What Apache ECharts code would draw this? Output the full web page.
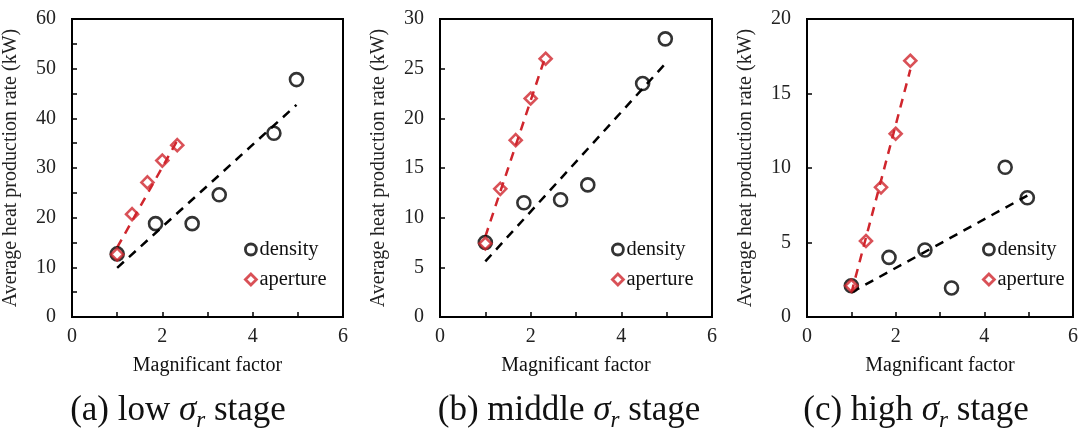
<!DOCTYPE html>
<html>
<head>
<meta charset="utf-8">
<script src="https://cdn.jsdelivr.net/npm/echarts@6/dist/echarts.min.js"></script>
<style>html,body{margin:0;padding:0;background:#fff}#c{width:1081px;height:432px}</style>
</head>
<body>
<div id="c"></div>
<script>
// ---- data ----
const densityX = [1, 1.85, 2.66, 3.26, 4.47, 4.97];
const apertureX = [1, 1.33, 1.67, 2, 2.33];
const densityA = [12.7, 18.8, 18.8, 24.6, 37.0, 47.8];
const apertureA = [12.6, 20.7, 27.1, 31.5, 34.6];
const densityB = [7.5, 11.5, 11.8, 13.3, 23.5, 28.0];
const apertureB = [7.4, 12.9, 17.8, 22.0, 26.0];
const densityC = [2.1, 4.0, 4.5, 1.95, 10.05, 8.0];
const apertureC = [2.1, 5.1, 8.7, 12.3, 17.2];
// trend line endpoints [x, y]
const trendDensityA = [[1, 9.9], [4.97, 42.7]];
const trendApertureA = [[1, 14.0], [2.33, 35.5]];
const trendDensityB = [[1, 5.6], [4.97, 25.5]];
const trendApertureB = [[1, 8.1], [2.33, 26.3]];
const trendDensityC = [[1, 1.65], [4.97, 8.15]];
const trendApertureC = [[1, 1.6], [2.33, 16.6]];
const yMax = [60, 30, 20];
const yInterval = [10, 5, 5];
const xTickLabels = ['0', '2', '4', '6'];
const xName = 'Magnificant factor';
const yName = 'Average heat production rate (kW)';
const captions = [['(a) low ', ' stage'], ['(b) middle ', ' stage'], ['(c) high ', ' stage']];
const legendNames = ['density', 'aperture'];

// ---- layout ----
const FONT = '"Liberation Serif", "Times New Roman", serif';
const RED = '#d0262d';
const gridLeft = [71, 440, 807];
const gridW = [272, 272, 274];
const gridTop = 19, gridH = 298;
const legendLeft = [239, 606, 977];
const captionX = [173, 564, 911];

const pair = (xs, ys) => xs.map((x, i) => [x, ys[i]]);
const densities = [densityA, densityB, densityC];
const apertures = [apertureA, apertureB, apertureC];
const trendsD = [trendDensityA, trendDensityB, trendDensityC];
const trendsA = [trendApertureA, trendApertureB, trendApertureC];

const grids = [], xAxes = [], yAxes = [], series = [], legends = [], titles = [];
for (let i = 0; i < 3; i++) {
  grids.push({left: gridLeft[i], top: gridTop, width: gridW[i], height: gridH, show: true,
    borderColor: '#000', borderWidth: 2, backgroundColor: 'transparent', containLabel: false});
  xAxes.push({gridIndex: i, type: 'value', min: 0, max: 6, interval: 2,
    name: xName, nameLocation: 'middle', nameGap: 39,
    nameTextStyle: {fontFamily: FONT, fontSize: 20, color: '#111'},
    axisLine: {show: true, lineStyle: {color: '#000', width: 2}},
    axisTick: {show: true, inside: true, length: 5, lineStyle: {color: '#000', width: 1.5}},
    minorTick: {show: true, splitNumber: 2, length: 5, lineStyle: {color: '#000', width: 1.5}},
    splitLine: {show: false},
    axisLabel: {fontFamily: FONT, fontSize: 20, color: '#222', margin: 10,
      formatter: v => xTickLabels[Math.round(v / 2)] ?? String(v)}});
  yAxes.push({gridIndex: i, type: 'value', min: 0, max: yMax[i], interval: yInterval[i],
    name: yName, nameLocation: 'middle', nameGap: 51, nameRotate: 90,
    nameTextStyle: {fontFamily: FONT, fontSize: 20, color: '#222'},
    axisLine: {show: true, lineStyle: {color: '#000', width: 2}},
    axisTick: {show: true, inside: true, length: 5, lineStyle: {color: '#000', width: 1.5}},
    minorTick: {show: i === 0, splitNumber: 2, length: 5, lineStyle: {color: '#000', width: 1.5}},
    splitLine: {show: false},
    axisLabel: {fontFamily: FONT, fontSize: 20, color: '#222', margin: 16}});
  series.push({type: 'line', xAxisIndex: i, yAxisIndex: i, data: trendsD[i], symbol: 'none',
    lineStyle: {color: '#000', width: 2.5, type: [9, 7]}, silent: true, z: 1});
  series.push({type: 'line', xAxisIndex: i, yAxisIndex: i, data: trendsA[i], symbol: 'none',
    lineStyle: {color: RED, width: 2.5, type: [9, 7]}, silent: true, z: 1});
  series.push({name: legendNames[0], type: 'scatter', xAxisIndex: i, yAxisIndex: i,
    data: pair(densityX, densities[i]), symbol: 'circle', symbolSize: 13,
    itemStyle: {color: 'rgba(255,255,255,0)', borderColor: '#000', borderWidth: 2.6}, z: 3});
  series.push({name: legendNames[1], type: 'scatter', xAxisIndex: i, yAxisIndex: i,
    data: pair(apertureX, apertures[i]), symbol: 'diamond', symbolSize: 12,
    itemStyle: {color: 'rgba(255,255,255,0)', borderColor: RED, borderWidth: 2.6}, z: 4});
  legends.push({data: legendNames, orient: 'vertical', left: legendLeft[i], top: 234,
    itemWidth: 11, itemHeight: 11, itemGap: 9, selectedMode: false,
    itemStyle: {borderWidth: 2.8},
    textStyle: {fontFamily: FONT, fontSize: 20.5, color: '#111', padding: [0, 0, 0, -2]}});
  titles.push({text: '{n|' + captions[i][0] + '}{s|σ}{r|r}{n|' + captions[i][1] + '}',
    left: captionX[i], top: 385, textAlign: 'center',
    textStyle: {fontWeight: 'normal', rich: {
      n: {fontFamily: FONT, fontSize: 35, fontWeight: 'normal', color: '#111', lineHeight: 42, verticalAlign: 'middle'},
      s: {fontFamily: FONT, fontSize: 35, fontWeight: 'normal', fontStyle: 'italic', color: '#111', lineHeight: 42, verticalAlign: 'middle'},
      r: {fontFamily: FONT, fontSize: 23, fontWeight: 'normal', fontStyle: 'italic', color: '#111', lineHeight: 23, verticalAlign: 'bottom'}
    }}});
}

const chart = echarts.init(document.getElementById('c'), null, {renderer: 'canvas'});
chart.setOption({
  animation: false,
  backgroundColor: '#fff',
  title: titles,
  legend: legends,
  grid: grids,
  xAxis: xAxes,
  yAxis: yAxes,
  series: series
});
</script>
</body>
</html>
